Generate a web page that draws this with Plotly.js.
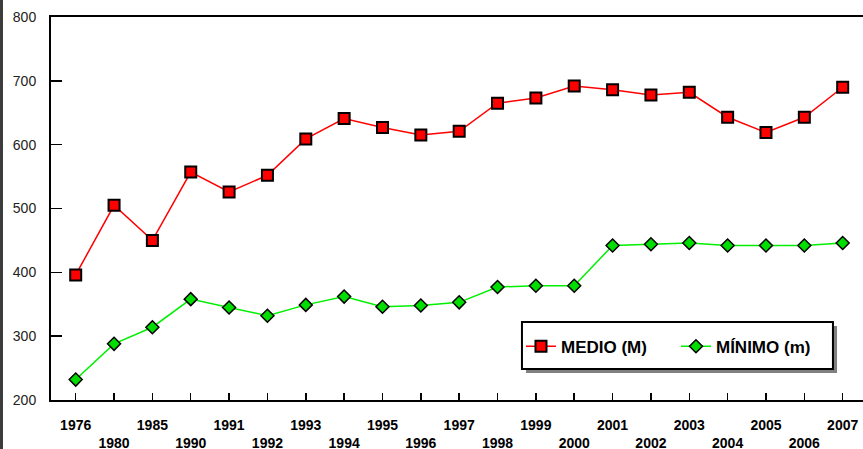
<!DOCTYPE html>
<html>
<head>
<meta charset="utf-8">
<script src="https://cdn.plot.ly/plotly-3.0.1.min.js"></script>
<style>
html,body{margin:0;padding:0;background:#fff;}
#wrap{position:relative;width:863px;height:449px;overflow:hidden;}
#chart{width:863px;height:449px;}
#frame{position:absolute;left:0;top:0;width:3px;height:449px;background:#3c3c3c;}
</style>
</head>
<body>
<div id="wrap"><div id="chart"></div><div id="frame"></div></div>
<script>
const years = ['1976','1980','1985','1990','1991','1992','1993','1994','1995','1996','1997','1998','1999','2000','2001','2002','2003','2004','2005','2006','2007'];
const medio = [396, 505, 450, 557, 526, 552, 609, 641, 627, 615, 621, 665, 673, 692, 686, 678, 682, 643, 619, 643, 690];
const minimo = [232, 288, 314, 358, 345, 332, 349, 362, 346, 348, 353, 377, 379, 379, 442, 444, 446, 442, 442, 442, 446];
const yTicks = [200, 300, 400, 500, 600, 700, 800];

const FONT = '"Liberation Sans", Arial, sans-serif';
const idx = years.map((_, i) => i);
const tickText = years.map((y, i) => i % 2 === 0 ? y + '<br>&nbsp;' : '&nbsp;<br>' + y);

const traces = [
  {
    x: idx, y: medio, name: 'MEDIO (M)', type: 'scatter', mode: 'lines+markers',
    line: {color: '#ff0000', width: 1.5},
    marker: {symbol: 'square', size: 11, color: '#ff0000', line: {color: '#000000', width: 2}}
  },
  {
    x: idx, y: minimo, name: 'MÍNIMO (m)', type: 'scatter', mode: 'lines+markers',
    line: {color: '#00f000', width: 1.5},
    marker: {symbol: 'diamond', size: 10, color: '#00dd00', line: {color: '#000000', width: 1.5}}
  }
];

const layout = {
  width: 863, height: 449,
  margin: {l: 51, r: 0, t: 17, b: 49},
  paper_bgcolor: '#ffffff', plot_bgcolor: '#ffffff',
  font: {family: FONT, color: '#000'},
  showlegend: true,
  xaxis: {
    range: [-0.644, 20.53],
    tickvals: idx, ticktext: tickText,
    ticks: 'inside', ticklen: 7, tickwidth: 1.5, tickcolor: '#000',
    showline: true, linecolor: '#000', linewidth: 2, mirror: true,
    showgrid: false, zeroline: false,
    tickfont: {size: 14, family: FONT, weight: 'bold', color: '#000'},
    tickangle: 0, ticklabelstandoff: 11
  },
  yaxis: {
    range: [200, 800],
    tickvals: yTicks,
    ticks: 'inside', ticklen: 11, tickwidth: 1.5, tickcolor: '#000',
    showline: true, linecolor: '#000', linewidth: 2,
    showgrid: false, zeroline: false,
    tickfont: {size: 14, family: FONT, color: '#222'},
    ticklabelstandoff: 10
  },
  legend: {
    orientation: 'h', x: 0.5788, y: 0.139, xanchor: 'left', yanchor: 'middle',
    bgcolor: 'rgba(0,0,0,0)', borderwidth: 0,
    font: {size: 17, family: FONT, weight: 'bold', color: '#000'},
    itemwidth: 30, entrywidth: 110, entrywidthmode: 'pixels'
  },
  shapes: [
    {type: 'rect', xref: 'paper', yref: 'paper', x0: 0.585, x1: 0.968, y0: 0.0705, y1: 0.1932,
     fillcolor: '#808080', line: {width: 0}, layer: 'above'},
    {type: 'rect', xref: 'paper', yref: 'paper', x0: 0.58, x1: 0.963, y0: 0.081, y1: 0.2037,
     fillcolor: '#ffffff', line: {color: '#000', width: 2}, layer: 'above'}
  ]
};

Plotly.newPlot('chart', traces, layout, {displayModeBar: false, staticPlot: true});
</script>
</body>
</html>
